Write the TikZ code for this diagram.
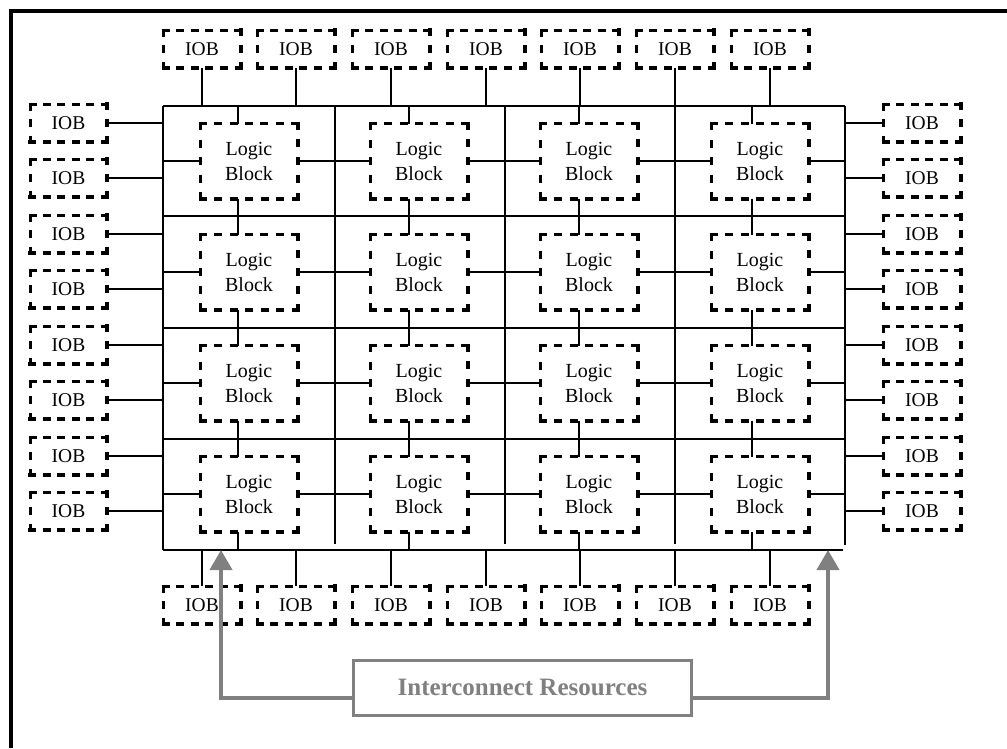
\documentclass[tikz,border=0pt]{standalone}
\usepackage{fontspec}
\setmainfont{Liberation Serif}
\usetikzlibrary{arrows.meta,calc}
\definecolor{irgray}{RGB}{128,128,128}

\tikzset{
  iob/.style={minimum width=77pt, minimum height=38pt, inner sep=0pt, outer sep=0pt,
    font=\fontsize{19.5}{24}\selectfont},
  lblock/.style={minimum width=97pt, minimum height=75pt, inner sep=0pt, outer sep=0pt,
    align=center, font=\fontsize{20}{25}\selectfont},
  wire/.style={line width=1.9pt, black},
  feed/.style={draw=irgray, line width=4pt, line join=miter,
    -{Triangle[width=22pt,length=20pt]}},
  resbox/.style={draw=irgray, line width=3pt, minimum width=338pt, minimum height=55.5pt,
    inner sep=0pt, text=irgray, font=\bfseries\fontsize{25}{30}\selectfont},
}

% one dashed side: start, end, side length, number of dashes, line width
% the side is stretched by half a line width at both ends so the corners close
\newcommand\dside[5]{%
  \pgfmathsetmacro\offp{(#3+#5-#4*8)/(#4-1)}%
  \pgfmathsetmacro\ext{#5/2}%
  \draw[line width=#5pt, dash pattern={on 8pt off \offp pt},
        shorten <=-\ext pt, shorten >=-\ext pt] #1 -- #2;}

% dashed outline round a node: name, width, height, dashes across, dashes down
\newcommand\dashedbox[5]{%
  \dside{(#1.north west)}{(#1.north east)}{#2}{#4}{3}%
  \dside{(#1.north west)}{(#1.south west)}{#3}{#5}{3}%
  \dside{(#1.south west)}{(#1.south east)}{#2}{#4}{4}%
  \dside{(#1.north east)}{(#1.south east)}{#3}{#5}{4}}

\begin{document}
\begin{tikzpicture}[x=1pt,y=-1pt]
\useasboundingbox (0,0) rectangle (1007,748);
\fill[white] (0,0) rectangle (1007,748);

% outer frame
\draw[line width=4pt] (11,748) -- (11,11) -- (1007,11);

% routing grid lines
\foreach \i/\x in {0/163,1/335,2/505,3/675,4/845} \coordinate (vl\i) at (\x,0);
\foreach \i/\y in {0/106,1/216,2/328,3/439,4/550} \coordinate (hl\i) at (0,\y);
\foreach \c/\x in {1/238,2/409,3/579,4/752} \coordinate (sx\c) at (\x,0);

\foreach \i in {0,1,2,3} \draw[wire] (vl0|-hl\i) -- (vl4|-hl\i);
\draw[wire] (vl0|-hl4) -- ($(vl4|-hl4)+(-2,0)$);
\draw[wire] (vl0|-hl0) -- (vl0|-hl4);
\foreach \i in {1,2,3} \draw[wire] (vl\i|-hl0) -- ($(vl\i|-hl4)+(0,-6)$);
\draw[wire] (vl4|-hl0) -- ($(vl4|-hl4)+(0,-5)$);

% logic blocks
\foreach \c/\x in {1/249,2/419,3/589,4/760}
  \foreach \r/\y in {1/161,2/272,3/383,4/494}
    \node[lblock] (lb-\c-\r) at (\x,\y) {Logic\\Block};

% I/O blocks
\foreach \k/\y in {1/123,2/178,3/234,4/289,5/345,6/400,7/456,8/511} {
  \node[iob] (iobL\k) at (68.5,\y) {IOB};
  \node[iob] (iobR\k) at (922,\y) {IOB};
}
\foreach \k/\x in {1/202,2/296,3/391,4/486,5/580,6/675,7/770} {
  \node[iob] (iobT\k) at (\x,49) {IOB};
  \node[iob] (iobB\k) at (\x,605) {IOB};
}

% logic block connections to the grid
\foreach \c in {1,...,4} \foreach \r in {1,...,4} {
  \pgfmathtruncatemacro\cp{\c-1}
  \pgfmathtruncatemacro\rp{\r-1}
  \draw[wire] (lb-\c-\r.north -| sx\c) -- (sx\c |- hl\rp);
  \draw[wire] (lb-\c-\r.south -| sx\c) -- (sx\c |- hl\r);
  \draw[wire] (lb-\c-\r.west) -- (lb-\c-\r.west -| vl\cp);
  \draw[wire] (lb-\c-\r.east) -- (lb-\c-\r.east -| vl\c);
}

% I/O block connections to the grid
\foreach \k in {1,...,8} {
  \draw[wire] (iobL\k.east) -- (iobL\k.east -| vl0);
  \draw[wire] (iobR\k.west) -- (iobR\k.west -| vl4);
}
\foreach \k in {1,...,7} {
  \draw[wire] (iobT\k.south) -- (iobT\k.south |- hl0);
  \draw[wire] (iobB\k.north) -- (iobB\k.north |- hl4);
}

% dashed outlines
\foreach \c in {1,...,4} \foreach \r in {1,...,4} {\dashedbox{lb-\c-\r}{97}{75}{7}{5}}
\foreach \k in {1,...,8} {\dashedbox{iobL\k}{77}{38}{6}{3}\dashedbox{iobR\k}{77}{38}{6}{3}}
\foreach \k in {1,...,7} {\dashedbox{iobT\k}{77}{38}{6}{3}\dashedbox{iobB\k}{77}{38}{6}{3}}

% interconnect label and its pointers
\node[resbox] (ir) at (522.5,687.75) {Interconnect Resources};
\coordinate (tipL) at (221,550);
\coordinate (tipR) at (828,550);
\draw[feed] ($(ir.west)+(0,10.5)$) -| (tipL);
\draw[feed] ($(ir.east)+(0,10.5)$) -| (tipR);
\end{tikzpicture}
\end{document}
